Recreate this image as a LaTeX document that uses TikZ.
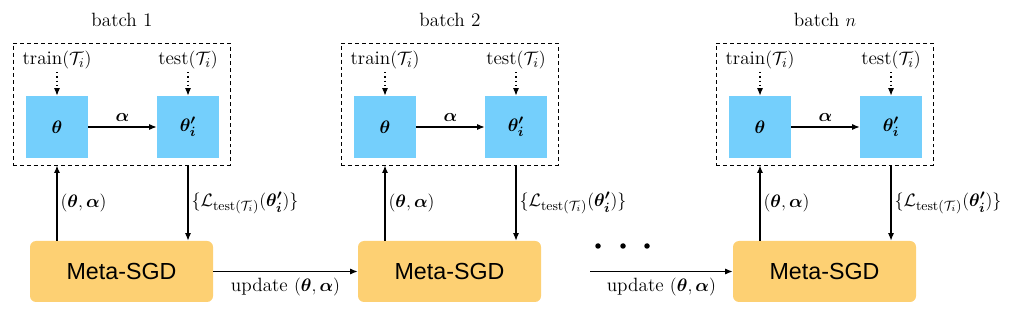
\documentclass[tikz,border=0pt]{standalone}
\usepackage{amsmath,bm}
\usepackage{fontspec}
\newfontfamily\sgdfont{Liberation Sans}
\usetikzlibrary{arrows.meta,calc}
\newlength\pxu
\setlength\pxu{0.6667pt}
\definecolor{paramblue}{RGB}{116,207,252}
\definecolor{sgdorange}{RGB}{253,208,115}
\begin{document}
\begin{tikzpicture}[x=0.6667pt,y=-0.6667pt,
  lbl/.style={font=\fontsize{12.8}{15}\selectfont, inner sep=2pt},
  param/.style={fill=paramblue, minimum width=62*\pxu, minimum height=62*\pxu, inner sep=0pt, font=\fontsize{12.8}{15}\selectfont},
  dbox/.style={draw, line width=0.6pt, dash pattern=on 2.6pt off 2pt, minimum width=217*\pxu, minimum height=122*\pxu, inner sep=0pt},
  meta/.style={fill=sgdorange, rounded corners=4pt, minimum width=183*\pxu, minimum height=61*\pxu, inner sep=0pt, font=\sgdfont\fontsize{15.5}{18}\selectfont},
  arr/.style={-{Latex[length=5pt,width=4pt]}, line width=0.8pt},
  dotarr/.style={-{Latex[length=5pt,width=4pt]}, line width=0.8pt, dotted},
  dotc/.style={circle, fill=black, inner sep=0pt, minimum size=5.5*\pxu}
]
\useasboundingbox (0,0) rectangle (1010,312);
\foreach \k/\ox/\lab in {1/0/1,2/328/2,3/703/$n$}{
  \node[lbl] (b\k) at (\ox+122,20) {batch \lab};
  \node[dbox] (box\k) at (\ox+121.5,104) {};
  \node[param] (th\k) at (\ox+57,127) {$\bm{\theta}$};
  \node[param] (tp\k) at (\ox+188,127) {$\bm{\theta'_i}$};
  \node[lbl] (tr\k) at (\ox+57,60) {train$(\mathcal{T}_i)$};
  \node[lbl] (te\k) at (\ox+188,60) {test$(\mathcal{T}_i)$};
  \node[meta] (m\k) at (\ox+121.5,271.5) {Meta-SGD};
  \draw[dotarr] (tr\k) -- (th\k);
  \draw[dotarr] (te\k) -- (tp\k);
  \draw[arr] (th\k) -- node[lbl, above, inner sep=3pt] {$\bm{\alpha}$} (tp\k);
  \draw[arr] (th\k |- m\k.north) -- node[lbl, right] {$(\bm{\theta},\bm{\alpha})$} (th\k |- box\k.south);
  \draw[arr] (tp\k |- box\k.south) -- node[lbl, right] {$\{\mathcal{L}_{\mathrm{test}(\mathcal{T}_i)}(\bm{\theta'_i})\}$} (tp\k |- m\k.north);
}
\draw[arr] (m1) -- node[lbl, below, inner sep=4pt] {update $(\bm{\theta},\bm{\alpha})$} (m2);
\node[dotc] (d1) at (598,246) {};
\node[dotc] (d2) at (623,246) {};
\node[dotc] (d3) at (647,246) {};
\coordinate (c3) at (590,271.5);
\draw[arr] (c3) -- node[lbl, below, inner sep=4pt] {update $(\bm{\theta},\bm{\alpha})$} (m3);
\end{tikzpicture}
\end{document}
